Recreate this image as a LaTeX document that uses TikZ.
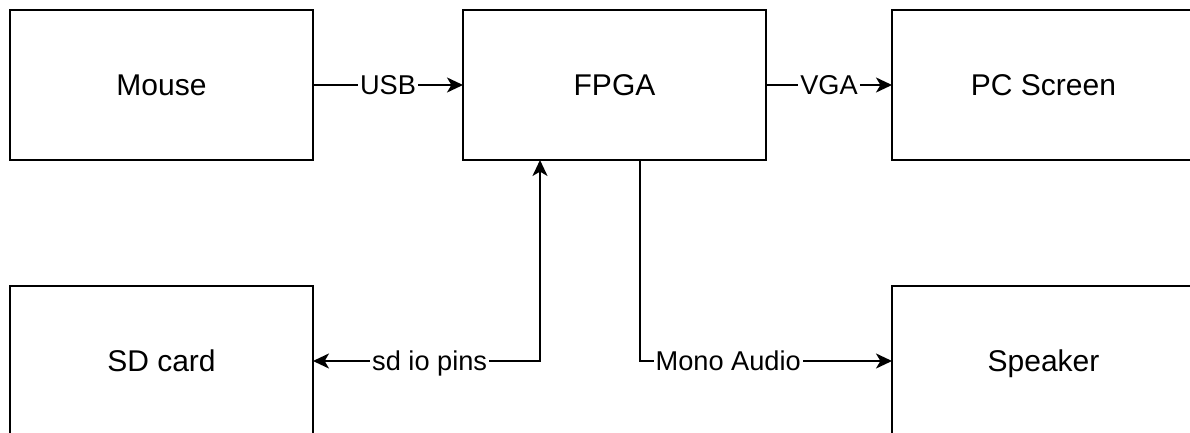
\documentclass[tikz,border=0pt]{standalone}
\usepackage{fontspec}
\setmainfont{Liberation Sans}
\usetikzlibrary{positioning,calc,arrows.meta}

\begin{document}
\begin{tikzpicture}
  [blockN/.style={rectangle,draw,line width=1.2pt,outer sep=0pt,
     minimum width=151.5pt,minimum height=75pt,
     text height=10.8pt,text depth=0pt,
     font=\fontsize{15}{18}\selectfont},
   lblN/.style={fill=white,inner sep=1pt,text height=9.8pt,text depth=0pt,
     font=\fontsize{13.6}{16}\selectfont},
   conn/.style={line width=1.1pt},
   >={Stealth[length=8pt,width=7.5pt,inset=2.2pt]},
   node distance=63pt]

  \useasboundingbox[fill=white] (0,0) rectangle (595pt,-216.5pt);
  \clip (0,0) rectangle (595pt,-216.5pt);

  \node[blockN,anchor=north west] (mouse) at (5pt,-5pt) {Mouse};

  \node[blockN] (fpga) [right=75pt of mouse] {FPGA}
    edge [conn,<-] node[lblN] {USB} (mouse);

  \node[blockN] (screen) [right=of fpga] {PC Screen}
    edge [conn,<-] node[lblN] {VGA} (fpga);

  \node[blockN] (sdcard) [below=of mouse] {SD card};

  \node[blockN] (speaker) [below=of screen] {Speaker};

  % pins on the bottom of the FPGA
  \coordinate (sdpin) at ($(fpga.south west)+(38.5pt,0)$);
  \coordinate (audpin) at ($(fpga.south west)+(88.5pt,0)$);

  \draw[conn,<->] (sdcard) -| node[lblN,pos=0.257] {sd io pins} (sdpin);
  \draw[conn,->] (audpin) |- node[lblN,pos=0.675] {Mono Audio} (speaker);

\end{tikzpicture}
\end{document}
